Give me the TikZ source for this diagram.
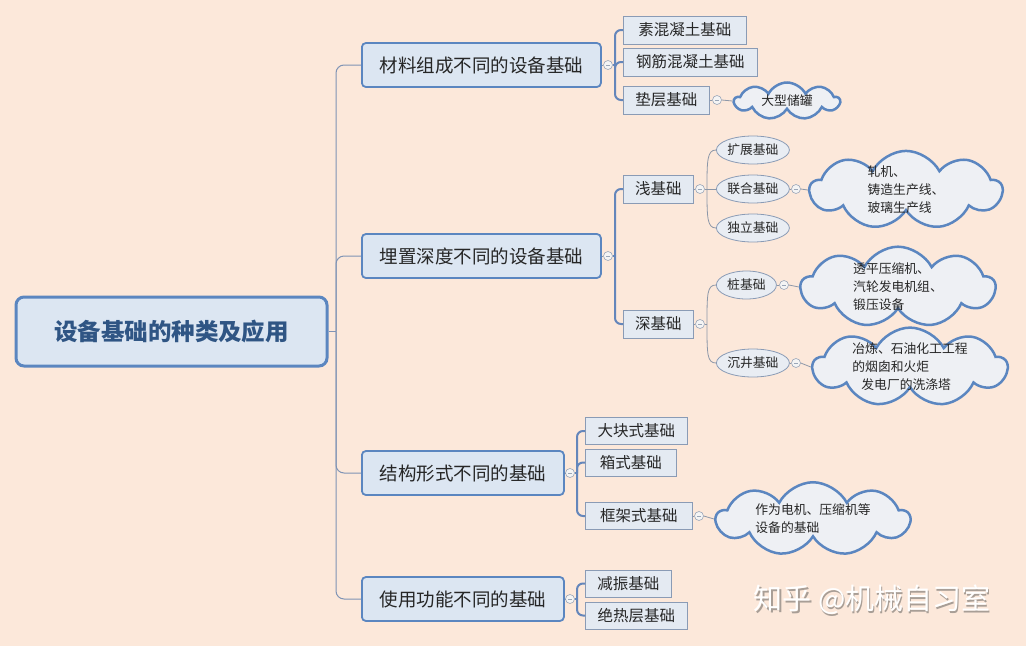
\documentclass[tikz,border=0pt]{standalone}
\usepackage{fontspec}
\setmainfont{Noto Sans CJK SC}
\usetikzlibrary{shapes.geometric,shapes.symbols}
\definecolor{bg}{HTML}{FCE8DA}
\definecolor{boxf}{HTML}{DCE6F2}
\definecolor{rootb}{HTML}{5B86C0}
\definecolor{roottxt}{HTML}{2F5584}
\definecolor{txt}{HTML}{262626}
\definecolor{l2b}{HTML}{8A9BB5}
\definecolor{l2f}{HTML}{E4EAF2}
\definecolor{elf}{HTML}{E9EDF3}
\definecolor{clf}{HTML}{EEF0F4}
\definecolor{mkb}{HTML}{9AA6B8}
\definecolor{mkf}{HTML}{F4F4F4}
\definecolor{trk}{HTML}{7F93B5}
\definecolor{brkc}{HTML}{6486BB}
\definecolor{thc}{HTML}{8C97A8}
\definecolor{wmsh}{HTML}{A89E96}
\begin{document}
\begin{tikzpicture}[x=1pt,y=-1pt,
  rootbox/.style={draw=rootb, line width=3pt, fill=boxf, rounded corners=8pt,
    minimum width=311pt, minimum height=69pt, inner sep=0pt,
    font=\fontsize{23.5}{28}\selectfont\bfseries, text=roottxt},
  lone/.style={draw=rootb, line width=1.8pt, fill=boxf, rounded corners=4pt,
    minimum height=44pt, inner sep=0pt, anchor=west,
    font=\fontsize{18.5}{22}\selectfont, text=txt},
  ltwo/.style={draw=l2b, line width=0.8pt, fill=l2f, minimum height=28pt,
    inner sep=0pt, anchor=west, font=\fontsize{15.5}{18}\selectfont, text=txt},
  lthree/.style={draw=l2b, line width=0.8pt, fill=l2f, minimum height=27pt,
    inner sep=0pt, anchor=west, font=\fontsize{15.5}{18}\selectfont, text=txt},
  lel/.style={ellipse, draw=l2b, line width=0.8pt, fill=elf, minimum height=28pt,
    inner sep=0pt, anchor=west, font=\fontsize{12.8}{15}\selectfont, text=txt},
  cld/.style={cloud, cloud puffs=9, cloud puff arc=125, cloud ignores aspect,
    draw=rootb, line width=2.5pt, fill=clf, inner sep=0pt, align=left,
    font=\fontsize{12.8}{18}\selectfont, text=txt},
  mk/.style={circle, draw=mkb, line width=0.6pt, fill=mkf, minimum size=9pt, inner sep=0pt,
    path picture={\draw[mkb, line width=0.6pt]
      ([xshift=-2.2pt]path picture bounding box.center) --
      ([xshift=2.2pt]path picture bounding box.center);}},
  trunk/.style={draw=trk, line width=1pt, rounded corners=8pt},
  brk/.style={draw=brkc, line width=2pt, rounded corners=6pt},
  thn/.style={draw=thc, line width=0.8pt},
]
\fill[bg] (0,0) rectangle (1026,646);
\useasboundingbox (0,0) rectangle (1026,646);

% root and level 1
\node[rootbox] (root) at (171.5,331.5) {设备基础的种类及应用};
\node[lone, minimum width=239pt] (a) at (361,65) {材料组成不同的设备基础};
\node[lone, minimum width=239pt] (b) at (361,256) {埋置深度不同的设备基础};
\node[lone, minimum width=202pt] (c) at (361,473) {结构形式不同的基础};
\node[lone, minimum width=202pt] (d) at (361,599) {使用功能不同的基础};

\coordinate (tr) at (336,331.5);
\draw[draw=trk, line width=1pt] (root.east) -- (tr);
\draw[trunk] (tr) |- (a.west);
\draw[trunk] (tr) |- (b.west);
\draw[trunk] (tr) |- (c.west);
\draw[trunk] (tr) |- (d.west);

% group 1
\node[mk] (ma) at (608,65) {};
\node[ltwo, minimum width=123pt] (a1) at (623,30) {素混凝土基础};
\node[ltwo, minimum width=134pt] (a2) at (623,62) {钢筋混凝土基础};
\node[ltwo, minimum width=86pt] (a3) at (623,100) {垫层基础};
\coordinate (ba) at (615,65);
\draw[thn] (a.east) -- (ma.west);
\draw[brk] (ma.east) -- (ba);
\draw[brk] (ba) |- (a1.west);
\draw[brk] (ba) |- (a2.west);
\draw[brk] (ba) |- (a3.west);
\node[mk] (ma3) at (717,100) {};
\node[cld, minimum width=105pt, minimum height=37pt, align=center] (c1) at (787,101) {大型储罐};
\draw[thn] (a3.east) -- (ma3.west);
\draw[thn] (ma3.east) -- (c1.west);

% group 2
\node[mk] (mb) at (608,256) {};
\node[ltwo, minimum width=70pt] (b1) at (623,189) {浅基础};
\node[ltwo, minimum width=70pt] (b2) at (623,324) {深基础};
\coordinate (bb) at (615,256);
\draw[thn] (b.east) -- (mb.west);
\draw[brk] (mb.east) -- (bb);
\draw[brk] (bb) |- (b1.west);
\draw[brk] (bb) |- (b2.west);

\node[mk] (mb1) at (700,189) {};
\node[mk] (mb2) at (700,324) {};
\draw[thn] (b1.east) -- (mb1.west);
\draw[thn] (b2.east) -- (mb2.west);

\node[lel, minimum width=73pt] (e1) at (716,150) {扩展基础};
\node[lel, minimum width=73pt] (e2) at (716,189) {联合基础};
\node[lel, minimum width=73pt] (e3) at (716,228) {独立基础};
\coordinate (bs) at (707,189);
\draw[thn] (mb1.east) -- (bs);
\draw[thn] (bs) .. controls +(0,-28) and +(-9,0) .. (e1.west);
\draw[thn] (bs) -- (e2.west);
\draw[thn] (bs) .. controls +(0,28) and +(-9,0) .. (e3.west);

\node[lel, minimum width=60pt] (e4) at (716,285) {桩基础};
\node[lel, minimum width=73pt] (e5) at (716,363) {沉井基础};
\coordinate (bd) at (707,324);
\draw[thn] (mb2.east) -- (bd);
\draw[thn] (bd) .. controls +(0,-30) and +(-9,0) .. (e4.west);
\draw[thn] (bd) .. controls +(0,30) and +(-9,0) .. (e5.west);

\node[mk] (me2) at (796,189) {};
\node[mk] (me4) at (784,285) {};
\node[mk] (me5) at (796,363) {};
\draw[thn] (e2.east) -- (me2.west);
\draw[thn] (e4.east) -- (me4.west);
\draw[thn] (e5.east) -- (me5.west);

\node[cld, minimum width=192pt, minimum height=60pt, inner ysep=-3pt] (c2) at (906,190)
  {轧机、\\铸造生产线、\\玻璃生产线};
\node[cld, minimum width=194pt, minimum height=60pt, inner ysep=-3.5pt] (c3) at (898,287)
  {透平压缩机、\\汽轮发电机组、\\锻压设备};
\node[cld, minimum width=194pt, minimum height=60pt, inner ysep=-7pt] (c4) at (910,367)
  {冶炼、石油化工工程\\的烟囱和火炬\\\hspace*{9pt}发电厂的洗涤塔};
\draw[thn] (me2.east) -- (c2.west);
\draw[thn] (me4.east) -- (c3.west);
\draw[thn] (me5.east) -- (c4.west);

% group 3
\node[mk] (mc) at (570,473) {};
\node[lthree, minimum width=102pt] (c31) at (585,431) {大块式基础};
\node[lthree, minimum width=91pt] (c32) at (585,462.5) {箱式基础};
\node[lthree, minimum width=107pt] (c33) at (585,516) {框架式基础};
\coordinate (bc) at (577,473);
\draw[thn] (c.east) -- (mc.west);
\draw[brk] (mc.east) -- (bc);
\draw[brk] (bc) |- (c31.west);
\draw[brk] (bc) |- (c32.west);
\draw[brk] (bc) |- (c33.west);
\node[mk] (mc3) at (699,516) {};
\node[cld, minimum width=193pt, minimum height=72pt] (c5) at (813,519)
  {作为电机、压缩机等\\设备的基础};
\draw[thn] (c33.east) -- (mc3.west);
\draw[thn] (mc3.east) -- (c5.west);

% group 4
\node[mk] (md) at (570,599) {};
\node[lthree, minimum width=86pt] (d1) at (585,583.5) {减振基础};
\node[lthree, minimum width=102pt] (d2) at (585,615.5) {绝热层基础};
\coordinate (bdd) at (577,599);
\draw[thn] (d.east) -- (md.west);
\draw[brk] (md.east) -- (bdd);
\draw[brk] (bdd) |- (d1.west);
\draw[brk] (bdd) |- (d2.west);

% watermark
\node[text=wmsh, font=\fontsize{29}{32}\selectfont] (wm0) at (873.5,601.5) {知乎 @机械自习室};
\node[text=white, font=\fontsize{29}{32}\selectfont] (wm) at (872,600) {知乎 @机械自习室};
\end{tikzpicture}
\end{document}
